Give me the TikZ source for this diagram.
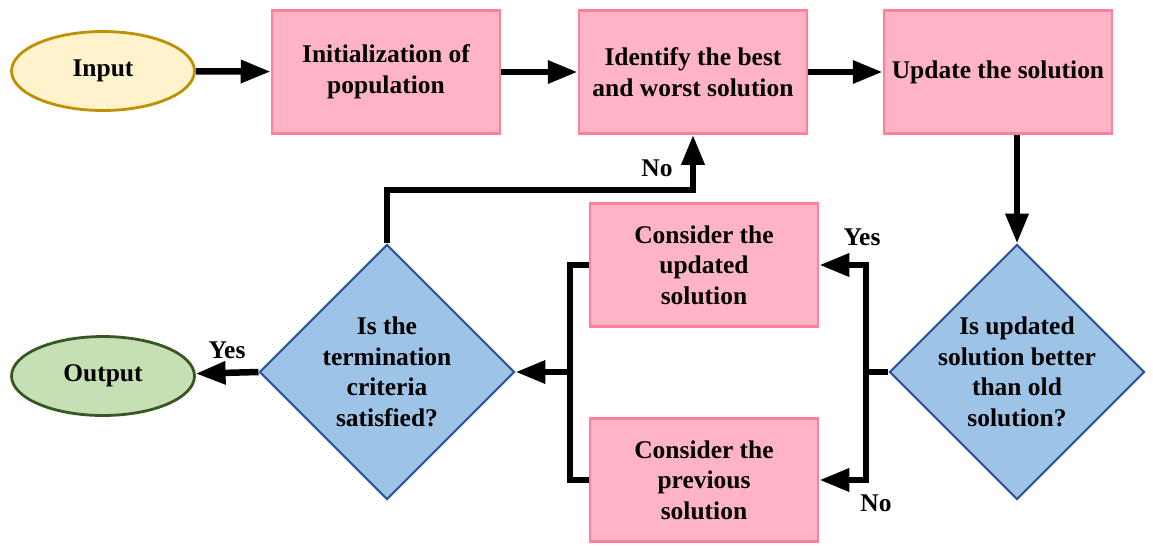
\documentclass[tikz,border=0pt]{standalone}
\usepackage{fontspec}
\setmainfont{Liberation Serif}[BoldFont={Liberation Serif Bold}]
\usepackage{tikz}
\usetikzlibrary{shapes.geometric}
\usetikzlibrary{arrows.meta}

\definecolor{boxfill}{RGB}{255,179,198}
\definecolor{boxline}{RGB}{255,128,153}
\definecolor{infill}{RGB}{255,242,204}
\definecolor{inline}{RGB}{191,144,0}
\definecolor{outfill}{RGB}{197,224,180}
\definecolor{outline}{RGB}{56,87,35}
\definecolor{decfill}{RGB}{157,195,230}
\definecolor{decline}{RGB}{47,85,151}

\begin{document}
\begin{tikzpicture}[x=0.02cm, y=-0.02cm,
        every node/.style={font=\fontsize{14.5}{17.4}\selectfont\bfseries},
        procbox/.style={rectangle, draw=boxline, fill=boxfill, line width=1.6pt,
            minimum width=4.56cm, minimum height=2.46cm, align=center, inner sep=0pt},
        termin/.style={ellipse, line width=1.6pt, minimum width=3.66cm,
            minimum height=1.58cm, inner sep=0pt},
        decide/.style={diamond, draw=decline, fill=decfill, line width=1.2pt,
            minimum width=5.1cm, minimum height=5.1cm, aspect=1, align=center, inner sep=-5pt},
        flow/.style={line width=3.7pt, line cap=butt},
        arr/.style={flow, -{Triangle[length=17pt,width=12.5pt]}}]
        \useasboundingbox (0,0) rectangle (1153,545);

        \node[termin, draw=inline, fill=infill] (input) at (103,71) {Input};
        \node[procbox] (init) at (386,72) {Initialization of\\population};
        \node[procbox] (ident) at (693,72) {Identify the best\\and worst solution};
        \node[procbox] (upd) at (998,72) {Update the solution};
        \node[decide] (better) at (1017,372) {Is updated\\solution better\\than old\\solution?};
        \node[procbox] (cons) at (704,265) {Consider the\\updated\\solution};
        \node[procbox] (prev) at (704,480) {Consider the\\previous\\solution};
        \node[decide] (term) at (387,372) {Is the\\termination\\criteria\\satisfied?};
        \node[termin, draw=outline, fill=outfill] (output) at (103,376) {Output};

        \coordinate (jr) at (866,372);
        \coordinate (jl) at (570,372);
        \coordinate (kn) at (387,190);

        \draw[arr] (input) -- (init);
        \draw[arr] (init) -- (ident);
        \draw[arr] (ident) -- (upd);
        \draw[arr] (better.north |- upd.south) -- (better.north);
        \draw[flow] (better.west) -- (jr);
        \draw[arr] (jr) |- (cons.east);
        \draw[arr] (jr) |- (prev.east);
        \draw[flow] (cons.west) -| (jl) |- (prev.west);
        \draw[arr] (jl) -- (term.east);
        \draw[arr] (term.west) -- (output);
        \draw[arr] (term.north) -- (kn) -| (ident.south);

        \node (yes1) at (862,237) {Yes};
        \node (no1) at (876,503) {No};
        \node (no2) at (657,168) {No};
        \node (yes2) at (227,350) {Yes};
    \end{tikzpicture}
\end{document}
